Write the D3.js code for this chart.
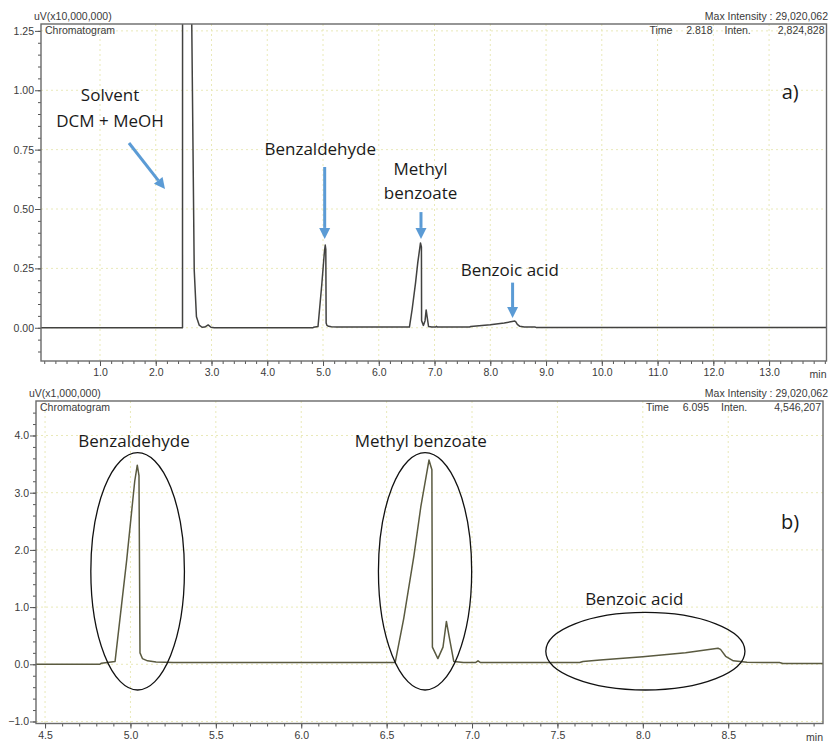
<!DOCTYPE html>
<html>
<head>
<meta charset="utf-8">
<script src="https://cdn.jsdelivr.net/npm/d3@7"></script>
<style>
body { margin: 0; background: #fff; }
svg { display: block; }
</style>
</head>
<body>
<div></div>
<script>
const width = 831
const height = 742

// retention time (min) and detector signal (uV x1,000,000)
const times = [-0.06, 2.48, 2.481, 2.50, 2.505, 2.64, 2.645, 2.69, 2.73, 2.78, 2.83, 2.88, 2.94, 2.99, 3.05, 4.82, 4.83,
    4.91, 4.978, 5.025, 5.04, 5.05, 5.056, 5.07, 5.10, 5.15, 5.25, 6.55, 6.60, 6.66, 6.70, 6.748,
    6.765, 6.768, 6.80, 6.83, 6.85, 6.865, 6.893, 6.95, 7.02, 7.035, 7.05, 7.63, 7.65, 7.75, 8.0,
    8.25, 8.44, 8.455, 8.485, 8.53, 8.61, 8.80, 8.82, 14.05]
const signal = [0, 0, 16, 16, 14, 16, 13, 2.43, 0.46, 0.11, 0.02, 0.03, 0.12, 0.02, 0, 0, 0.02,
    0.05, 1.82, 3.2, 3.48, 3.3, 0.2, 0.1, 0.06, 0.04, 0.03, 0.03, 0.8, 1.9, 2.75, 3.57,
    3.4, 0.3, 0.1, 0.3, 0.75, 0.5, 0.05, 0.03, 0.03, 0.06, 0.03, 0.03, 0.05, 0.075, 0.13,
    0.2, 0.28, 0.26, 0.14, 0.06, 0.035, 0.03, 0.015, 0.015]

// tick labels
const ticksAX = [1, 2, 3, 4, 5, 6, 7, 8, 9, 10, 11, 12, 13]
const ticksAY = [0, 0.25, 0.5, 0.75, 1.0, 1.25]
const ticksBX = [4.5, 5.0, 5.5, 6.0, 6.5, 7.0, 7.5, 8.0, 8.5]
const ticksBY = [-1, 0, 1, 2, 3, 4]

// headers
const unitsA = 'uV(x10,000,000)'
const unitsB = 'uV(x1,000,000)'
const maxIntensity = 'Max Intensity : 29,020,062'
const cursorA = ['2.818', '2,824,828']
const cursorB = ['6.095', '4,546,207']

// annotations in panel a: text, time, value (x10,000,000)
const labelsA = [['Solvent', 1.18, 0.955], ['DCM + MeOH', 1.18, 0.845], ['Benzaldehyde', 4.95, 0.727],
    ['Methyl', 6.75, 0.643], ['benzoate', 6.75, 0.541], ['Benzoic acid', 8.35, 0.218]]
// arrows: from (t, v) to (t, v)
const arrowsA = [[1.52, 0.778, 2.166, 0.584], [5.03, 0.677, 5.03, 0.374],
    [6.757, 0.487, 6.757, 0.374], [8.40, 0.19, 8.40, 0.041]]
// annotations in panel b
const labelsB = [['Benzaldehyde', 5.021, 3.8], ['Methyl benzoate', 6.70, 3.8], ['Benzoic acid', 7.95, 1.037]]
// ellipses: centre t, centre v, radius in t, radius in v
const ellipsesB = [[5.042, 1.626, 0.274, 2.075], [6.725, 1.626, 0.273, 2.075], [8.015, 0.229, 0.583, 0.678]]

let svg = d3.select('div').append('svg')
    .attr('width', width)
    .attr('height', height)

const data = times.map((t, i) => ({ t: t, v: signal[i] }))

function drawPanel(p) {
    let g = svg.append('g')
    let x = d3.scaleLinear().domain(p.xDomain).range([p.left, p.right])
    let y = d3.scaleLinear().domain(p.yDomain).range([p.bottom, p.top])

    // grid
    g.append('g').selectAll('line').data(p.gridX).enter().append('line')
        .attr('x1', d => x(d)).attr('x2', d => x(d))
        .attr('y1', p.top).attr('y2', p.bottom)
        .style('stroke', '#e9e9b8').style('stroke-dasharray', '2,3')
    g.append('g').selectAll('line').data(p.gridY).enter().append('line')
        .attr('y1', d => y(d)).attr('y2', d => y(d))
        .attr('x1', p.left).attr('x2', p.right)
        .style('stroke', '#e9e9b8').style('stroke-dasharray', '2,3')

    // trace
    let clipId = 'clip' + p.name
    svg.append('clipPath').attr('id', clipId).append('rect')
        .attr('x', p.left).attr('y', p.top)
        .attr('width', p.right - p.left).attr('height', p.bottom - p.top)
    let line = d3.line().x(d => x(d.t)).y(d => y(d.v / p.scale))
    g.append('path')
        .datum(data)
        .attr('d', line)
        .attr('clip-path', 'url(#' + clipId + ')')
        .style('fill', 'none')
        .style('stroke', p.traceColor)
        .style('stroke-width', 1.5)
        .style('stroke-linejoin', 'round')

    // axes
    let fmtX = d3.format('.1f')
    let xMinor = g.append('g').attr('transform', 'translate(0,' + p.bottom + ')')
        .call(d3.axisBottom(x).tickValues(p.minorX).tickSize(3).tickFormat(''))
    let xMajor = g.append('g').attr('transform', 'translate(0,' + p.bottom + ')')
        .call(d3.axisBottom(x).tickValues(p.ticksX).tickSize(5).tickPadding(3).tickFormat(fmtX))
    let yMinor = g.append('g').attr('transform', 'translate(' + p.left + ',0)')
        .call(d3.axisLeft(y).tickValues(p.minorY).tickSize(3).tickFormat(''))
    let yMajor = g.append('g').attr('transform', 'translate(' + p.left + ',0)')
        .call(d3.axisLeft(y).tickValues(p.ticksY).tickSize(6).tickPadding(1).tickFormat(d3.format(p.yFormat)))
    for (const a of [xMinor, xMajor, yMinor, yMajor]) {
        a.select('.domain').remove()
        a.selectAll('line').style('stroke', '#555')
        a.selectAll('text').style('font-family', 'Liberation Sans, Arial, sans-serif')
            .style('font-size', '10.5px').style('fill', '#3a3a3a')
    }

    // frame
    g.append('rect')
        .attr('x', p.left).attr('y', p.top)
        .attr('width', p.right - p.left).attr('height', p.bottom - p.top)
        .style('fill', 'none').style('stroke', '#6a6a6a').style('stroke-width', 1.4)

    // header texts
    const small = (txt, tx, ty, anchor) => g.append('text')
        .attr('x', tx).attr('y', ty).attr('text-anchor', anchor || 'start')
        .style('font-family', 'Liberation Sans, Arial, sans-serif')
        .style('font-size', '10.5px').style('fill', '#3a3a3a')
        .text(txt)
    small(p.units, p.left - 7, p.top - 4)
    small('Chromatogram', p.left + 4, p.top + 9.5)
    small(maxIntensity, width - 3, p.top - 4, 'end')
    small('Time', p.right - 177, p.top + 9.5)
    small(p.cursor[0], p.right - 114, p.top + 9.5, 'end')
    small('Inten.', p.right - 102, p.top + 9.5)
    small(p.cursor[1], p.right - 2, p.top + 9.5, 'end')
    small('min', p.right, p.bottom + 17, 'end')

    return { g: g, x: x, y: y }
}

function bigText(g, txt, tx, ty, size) {
    g.append('text')
        .attr('x', tx).attr('y', ty)
        .attr('text-anchor', 'middle')
        .style('font-family', 'Open Sans, Lato, sans-serif')
        .style('font-size', (size || 17) + 'px')
        .style('fill', '#1a1a1a')
        .text(txt)
}

function arrow(g, x1, y1, x2, y2) {
    let ang = Math.atan2(y2 - y1, x2 - x1)
    let headLen = 11, headW = 5.5
    let bx = x2 - headLen * Math.cos(ang), by = y2 - headLen * Math.sin(ang)
    let nx = -Math.sin(ang), ny = Math.cos(ang)
    g.append('line')
        .attr('x1', x1).attr('y1', y1).attr('x2', bx).attr('y2', by)
        .style('stroke', '#5b9bd5').style('stroke-width', 3)
    g.append('polygon')
        .attr('points', [[x2, y2], [bx + nx * headW, by + ny * headW], [bx - nx * headW, by - ny * headW]].join(' '))
        .style('fill', '#5b9bd5')
}

// panel a
let A = drawPanel({
    name: 'a', left: 41, right: 826.5, top: 24, bottom: 361,
    xDomain: [-0.058, 14.03], yDomain: [-0.14, 1.279], scale: 10,
    ticksX: ticksAX, ticksY: ticksAY, yFormat: '.2f',
    minorX: d3.range(0, 14.01, 0.2), minorY: d3.range(-0.1, 1.26, 0.05),
    gridX: ticksAX, gridY: ticksAY,
    units: unitsA, cursor: cursorA, traceColor: '#424240'
})
labelsA.forEach(l => bigText(A.g, l[0], A.x(l[1]), A.y(l[2])))
arrowsA.forEach(a => arrow(A.g, A.x(a[0]), A.y(a[1]), A.x(a[2]), A.y(a[3])))
bigText(A.g, 'a)', A.x(13.38), A.y(0.963), 20)

// panel b
let B = drawPanel({
    name: 'b', left: 36, right: 823, top: 401, bottom: 723.5,
    xDomain: [4.447, 9.055], yDomain: [-1.035, 4.603], scale: 1,
    ticksX: ticksBX, ticksY: ticksBY, yFormat: '.1f',
    minorX: d3.range(4.5, 9.01, 0.1), minorY: d3.range(-1, 4.5, 0.2),
    gridX: ticksBX, gridY: ticksBY,
    units: unitsB, cursor: cursorB, traceColor: '#5a5a40'
})
labelsB.forEach(l => bigText(B.g, l[0], B.x(l[1]), B.y(l[2])))
B.g.selectAll('ellipse').data(ellipsesB).enter().append('ellipse')
    .attr('cx', d => B.x(d[0]))
    .attr('cy', d => B.y(d[1]))
    .attr('rx', d => B.x(d[0] + d[2]) - B.x(d[0]))
    .attr('ry', d => B.y(d[1] - d[3]) - B.y(d[1]))
    .style('fill', 'none').style('stroke', '#111').style('stroke-width', 1.3)
bigText(B.g, 'b)', B.x(8.862), B.y(2.365), 20)
</script>
</body>
</html>
